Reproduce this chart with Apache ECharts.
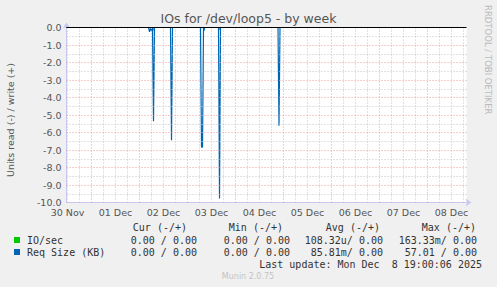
<!DOCTYPE html>
<html><head><meta charset="utf-8">
<script src="https://cdn.jsdelivr.net/npm/echarts@6/dist/echarts.min.js"></script>
<style>html,body{margin:0;padding:0;background:#f0f0f0;overflow:hidden}#c{width:497px;height:287px}</style>
</head><body><div id="c"></div>
<script>
// ---- data ----
const titleText = 'IOs for /dev/loop5 - by week';
const yAxisName = 'Units read (-) / write (+)';
const dayLabels = ['30 Nov','01 Dec','02 Dec','03 Dec','04 Dec','05 Dec','06 Dec','07 Dec','08 Dec'];
const dayLabelHours = [12,36,60,84,108,132,156,180,204]; // hours since 30 Nov 00:00 (label at noon)
const hourMin = 11.5, hourMax = 211.5;
const yTicks = [0,-1,-2,-3,-4,-5,-6,-7,-8,-9,-10];
// Req Size (KB), read side drawn negative: [hour since 30 Nov 00:00, value]
const reqSizeRead = [[11.5,0],[52.5,0],[53,-0.25],[53.5,-0.05],[54,-0.2],[54.5,0],[55,-5.35],[55.5,0],
  [63.5,0],[64,-6.44],[64.5,0],[78.5,0],[79,-6.84],[79.5,-6.84],[80,0],[80.25,-0.2],[80.5,0],
  [87.5,0],[88,-9.77],[88.5,0],[117.25,0],[117.75,-5.62],[118.25,0],[211,0]];
// IO/sec, read side drawn negative
const ioSecRead = [[11.5,0],[54.5,0],[55,-0.16],[55.5,0],[87.5,0],[88,-0.12],[88.5,0],[211,0]];
const legendNames = ['IO/sec','Req Size (KB)'];
const legendColors = ['#00cc00','#0066b3'];
const legendHeaders = ['Cur (-/+)','Min (-/+)','Avg (-/+)','Max (-/+)'];
const ioSecStats = ['0.00 / 0.00','0.00 / 0.00','108.32u/ 0.00','163.33m/ 0.00'];
const reqSizeStats = ['0.00 / 0.00','0.00 / 0.00','85.81m/ 0.00','57.01 / 0.00'];
const lastUpdate = 'Last update: Mon Dec  8 19:00:06 2025';
const footer = 'Munin 2.0.75';
const sideText = 'RRDTOOL / TOBI OETIKER';

// ---- layout ----
const G = {left:66.5, top:27.5, width:400, height:175};
const sans = 'DejaVu Sans', mono = 'DejaVu Sans Mono';
const redGrid = {color:'#ec9c9c', width:1, type:[1,2]};
const grayGrid = {color:'#c4c4c4', width:1, type:[1,2]};

const gridLines = [];
for (let h = Math.ceil(hourMin/6)*6; h < hourMax; h += 6) {
  gridLines.push({xAxis:h, lineStyle: (h % 24 === 0) ? redGrid : grayGrid});
}
for (let v = -9.5; v < 0; v += 0.5) {
  gridLines.push({yAxis:v, lineStyle: (Number.isInteger(v)) ? redGrid : grayGrid});
}

const graphic = [];
graphic.push({type:'text', left:'center', top:12, style:{text:titleText, font:'12.5px "'+sans+'"', fill:'#555'}});
graphic.push({type:'text', x:10, y:120, rotation:Math.PI/2,
  style:{text:yAxisName, font:'9.5px "'+sans+'"', fill:'#555', align:'center', verticalAlign:'middle'}});
graphic.push({type:'text', x:488, y:5, rotation:-Math.PI/2,
  style:{text:sideText, font:'8.5px "'+sans+'"', fill:'#bbb', align:'left', verticalAlign:'middle'}});
const hdrRight = [187,283,380,476], valRight = [197,290,383,477];
legendHeaders.forEach((t,i)=>graphic.push({type:'text', x:hdrRight[i], y:227,
  style:{text:t, font:'10px "'+mono+'"', fill:'#333', align:'right', verticalAlign:'middle'}}));
[ioSecStats, reqSizeStats].forEach((row,r)=>{
  const y = 240 + r*12;
  graphic.push({type:'rect', shape:{x:14,y:y-3,width:6,height:6}, style:{fill:legendColors[r]}});
  graphic.push({type:'text', x:27, y:y, style:{text:legendNames[r], font:'10px "'+mono+'"', fill:'#333', align:'left', verticalAlign:'middle'}});
  row.forEach((t,i)=>graphic.push({type:'text', x:valRight[i], y:y,
    style:{text:t, font:'10px "'+mono+'"', fill:'#333', align:'right', verticalAlign:'middle'}}));
});
graphic.push({type:'text', x:482, y:264, style:{text:lastUpdate, font:'10px "'+mono+'"', fill:'#333', align:'right', verticalAlign:'middle'}});
graphic.push({type:'text', x:248, y:276, style:{text:footer, font:'8px "'+sans+'"', fill:'#c4c4c4', align:'center', verticalAlign:'middle'}});

const chart = echarts.init(document.getElementById('c'), null, {renderer:'svg'});
chart.setOption({
  animation:false,
  backgroundColor:'#f0f0f0',
  grid:{left:G.left, top:G.top, width:G.width, height:G.height, show:true, backgroundColor:'#fff', borderWidth:0},
  xAxis:{type:'value', min:hourMin, max:hourMax,
    axisLine:{onZero:false, lineStyle:{color:'#c8c8f0'}, symbol:['none','arrow'], symbolSize:[6,6], symbolOffset:[0,5]},
    axisTick:{show:false}, splitLine:{show:false},
    axisLabel:{customValues:dayLabelHours, formatter:(v)=>dayLabels[dayLabelHours.indexOf(v)] || '',
      color:'#555', fontFamily:sans, fontSize:9.5, margin:5}},
  yAxis:{type:'value', min:-10, max:0, interval:1,
    axisLine:{show:true, lineStyle:{color:'#c8c8f0'}, symbol:['none','arrow'], symbolSize:[6,6], symbolOffset:[0,5]},
    axisTick:{show:false}, splitLine:{show:false},
    axisLabel:{formatter:(v)=>v.toFixed(1), color:'#555', fontFamily:sans, fontSize:9.5, margin:5}},
  graphic:graphic,
  series:[
    {type:'line', z:1, data:[], silent:true,
      markLine:{silent:true, symbol:['none','none'], label:{show:false}, data:gridLines}},
    {type:'line', z:2, name:legendNames[0], data:ioSecRead, showSymbol:false, clip:false,
      lineStyle:{color:legendColors[0], width:1}},
    {type:'line', z:3, name:legendNames[1], data:reqSizeRead, showSymbol:false, clip:false,
      lineStyle:{color:legendColors[1], width:1.2}},
    {type:'line', z:4, data:[], silent:true,
      markLine:{silent:true, symbol:['none','none'], label:{show:false},
        data:[{yAxis:0, lineStyle:{color:'#000', width:1, type:'solid'}}]}}
  ]
});
</script></body></html>
